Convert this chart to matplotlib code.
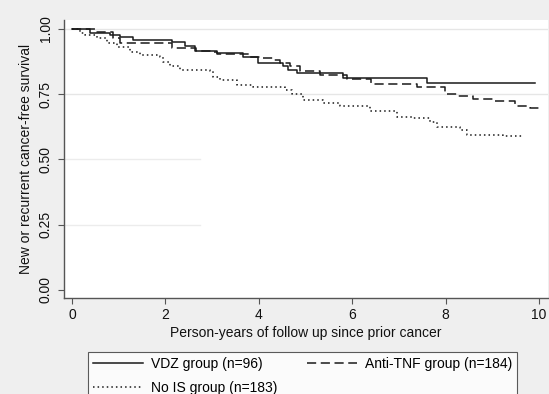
import matplotlib
matplotlib.use("Agg")
import matplotlib.pyplot as plt

plt.rcParams["font.family"] = ["Liberation Sans", "DejaVu Sans"]

# --- Kaplan-Meier estimates ---
vdz_t = [0, 0.39, 0.81, 1.03, 1.31, 2.14, 2.42, 2.63, 3.10, 3.66, 3.98, 4.52,
         4.63, 4.82, 5.80, 7.60, 9.91]
vdz_s = [1.0, 0.984, 0.978, 0.968, 0.958, 0.948, 0.935, 0.915, 0.907, 0.894,
         0.869, 0.856, 0.843, 0.830, 0.811, 0.794, 0.794]

tnf_t = [0, 0.50, 0.88, 1.03, 2.14, 2.65, 3.00, 3.10, 3.80, 4.10, 4.30, 4.45,
         4.67, 4.88, 5.30, 5.88, 6.40, 7.39, 7.99, 8.27, 8.59, 9.01, 9.49,
         9.81, 10.02]
tnf_s = [1.0, 0.989, 0.964, 0.946, 0.927, 0.917, 0.913, 0.904, 0.894, 0.889,
         0.881, 0.869, 0.856, 0.837, 0.824, 0.807, 0.788, 0.777, 0.751, 0.741,
         0.731, 0.722, 0.705, 0.696, 0.684]

nois_t = [0, 0.17, 0.28, 0.54, 0.75, 0.96, 1.24, 1.46, 1.88, 1.95, 2.10, 2.31,
          2.95, 3.02, 3.17, 3.53, 3.88, 4.55, 4.70, 4.95, 5.37, 5.74, 6.38,
          6.96, 7.30, 7.67, 7.82, 8.31, 8.46, 9.23, 9.64]
nois_s = [1.0, 0.984, 0.977, 0.964, 0.946, 0.932, 0.913, 0.900, 0.894, 0.875,
          0.856, 0.843, 0.837, 0.817, 0.805, 0.786, 0.779, 0.767, 0.752, 0.728,
          0.716, 0.703, 0.684, 0.664, 0.658, 0.645, 0.626, 0.614, 0.594, 0.588,
          0.588]

labels = ["VDZ group (n=96)", "Anti-TNF group (n=184)", "No IS group (n=183)"]
xticks = [0, 2, 4, 6, 8, 10]
yticks = [0.0, 0.25, 0.50, 0.75, 1.0]

W, H = 549, 394
FS = 10
fig = plt.figure(figsize=(W / 100, H / 100), dpi=100)
fig.patch.set_facecolor("#efefef")
ax = fig.add_axes([64 / W, 1 - 298 / H, (548 - 64) / W, (298 - 20) / H])
ax.set_facecolor("white")

# gridlines (lower ones partly hidden in the original)
ax.axhline(1.0, color="#e6e6e6", lw=1, zorder=0)
ax.axhline(0.75, color="#e6e6e6", lw=1, zorder=0)
ax.axhline(0.50, xmax=0.28, color="#ececec", lw=1, zorder=0)
ax.axhline(0.25, xmax=0.28, color="#ececec", lw=1, zorder=0)

l1, = ax.step(vdz_t, vdz_s, where="post", color="#1a1a1a", lw=1.1)
l2, = ax.step(tnf_t, tnf_s, where="post", color="#1a1a1a", lw=1.1,
              dashes=(6, 3))
l3, = ax.step(nois_t, nois_s, where="post", color="#1a1a1a", lw=1.1,
              dashes=(1, 2))

ax.set_xlim(-0.17, 10.19)
ax.set_ylim(-0.031, 1.034)
ax.set_xticks(xticks)
ax.set_xticklabels([str(v) for v in xticks], fontsize=FS)
ax.set_yticks(yticks)
ax.set_yticklabels([f"{v:.2f}" for v in yticks], fontsize=FS,
                   rotation=90, va="center")
for s in ["top", "right"]:
    ax.spines[s].set_visible(False)
for s in ["left", "bottom"]:
    ax.spines[s].set_color("#555555")
    ax.spines[s].set_linewidth(1.0)
ax.tick_params(direction="out", length=4, width=0.8, color="#555555",
               pad=4, labelcolor="#111111")
ax.tick_params(axis="x", pad=3)

ax.set_xlabel("Person-years of follow up since prior cancer", fontsize=FS,
              color="#111111", labelpad=3)
ax.set_ylabel("New or recurrent cancer-free survival", fontsize=FS,
              color="#111111", labelpad=4)

# two columns filled column-wise: VDZ / No IS in column 1, Anti-TNF in column 2
leg = fig.legend([l1, l3, l2], [labels[0], labels[2], labels[1]],
                 ncol=2, loc="upper left",
                 bbox_to_anchor=(88 / W, 1 - 352 / H), borderaxespad=0,
                 fontsize=FS, frameon=True, fancybox=False,
                 handlelength=3.6, handletextpad=0.6, columnspacing=2.1,
                 labelspacing=0.7, borderpad=0.35)
leg.get_frame().set_edgecolor("#333333")
leg.get_frame().set_linewidth(0.8)

fig.savefig("out.png", dpi=100, facecolor=fig.get_facecolor())
